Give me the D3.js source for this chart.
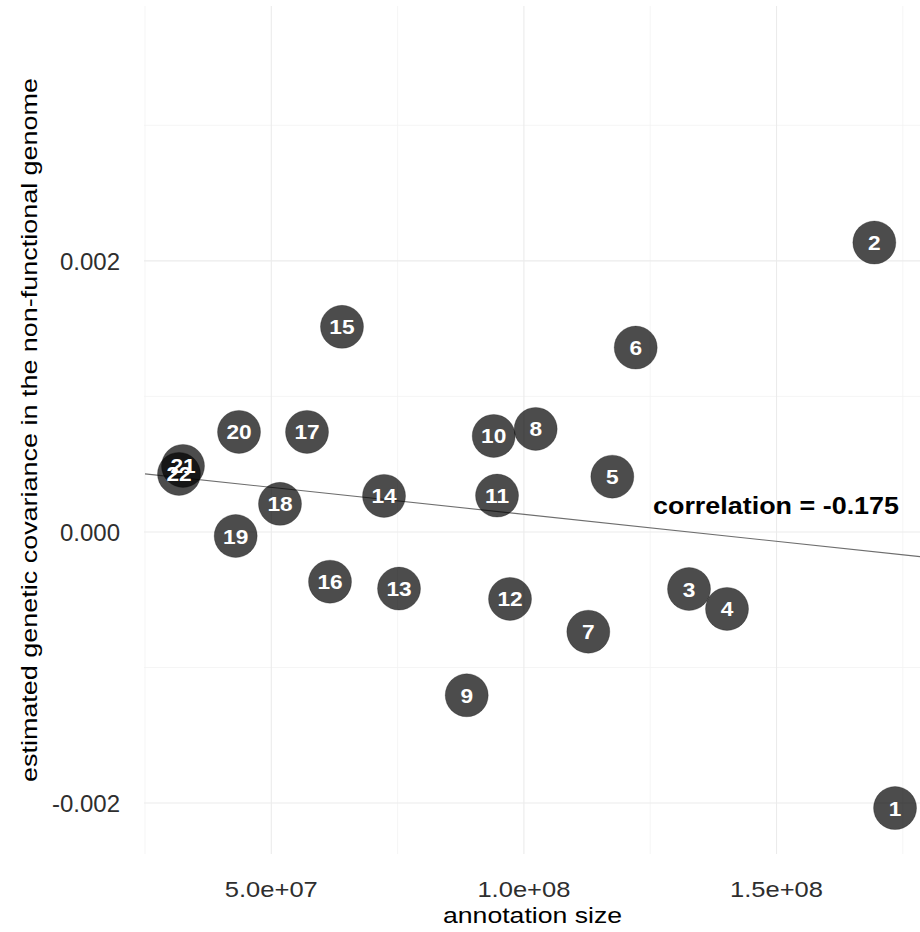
<!DOCTYPE html>
<html><head><meta charset="utf-8">
<script src="https://cdn.jsdelivr.net/npm/d3@7"></script>
<style>
html,body{margin:0;padding:0;background:#fff;}
text{font-family:"Liberation Sans",Arial,sans-serif;}
</style></head>
<body>
<svg id="chart" width="920" height="932"></svg>
<script>
// ---- data ----
const ids = [1,2,3,4,5,6,7,8,9,10,11,12,13,14,15,16,17,18,19,20,21,22];
const annotationSize = [1.7346e8,1.6936e8,1.3268e8,1.402e8,1.175e8,1.2213e8,1.1275e8,1.0233e8,8.868e7,9.402e7,9.468e7,9.725e7,7.528e7,7.231e7,6.399e7,6.162e7,5.707e7,5.172e7,4.295e7,4.361e7,3.252e7,3.173e7];
const covariance = [-0.002037,0.002135,-0.000421,-0.000568,0.000408,0.00136,-0.000736,0.00076,-0.001205,0.000708,0.000268,-0.000494,-0.000418,0.000266,0.001513,-0.000367,0.000738,0.000207,-0.00003,0.000738,0.000487,0.000428];
const xMajor = [5e7,1e8,1.5e8];
const xTickLabels = ["5.0e+07","1.0e+08","1.5e+08"];
const xMinor = [2.5e7,7.5e7,1.25e8,1.75e8];
const yMajor = [-0.002,0,0.002];
const yTickLabels = ["-0.002","0.000","0.002"];
const yMinor = [-0.001,0.001,0.003];
const corrLabel = "correlation = -0.175";
const xTitle = "annotation size";
const yTitle = "estimated genetic covariance in the non-functional genome";

const svg = d3.select("#chart");
const panel = {left:145, right:920, top:6, bottom:854};
const x = d3.scaleLinear().domain([2.5e7, 1.784e8]).range([panel.left, panel.right]);
const y = d3.scaleLinear().domain([-0.002376, 0.00388]).range([panel.bottom, panel.top]);

// grid
const g = svg.append("g");
g.selectAll(".xmin").data(xMinor).join("line")
  .attr("x1",d=>x(d)).attr("x2",d=>x(d)).attr("y1",panel.top).attr("y2",panel.bottom)
  .attr("stroke","#f3f3f3").attr("stroke-width",0.8);
g.selectAll(".ymin").data(yMinor).join("line")
  .attr("y1",d=>y(d)).attr("y2",d=>y(d)).attr("x1",panel.left-1).attr("x2",panel.right)
  .attr("stroke","#f3f3f3").attr("stroke-width",0.8);
g.selectAll(".xmaj").data(xMajor).join("line")
  .attr("x1",d=>x(d)).attr("x2",d=>x(d)).attr("y1",panel.top).attr("y2",panel.bottom)
  .attr("stroke","#ebebeb").attr("stroke-width",1.1);
g.selectAll(".ymaj").data(yMajor).join("line")
  .attr("y1",d=>y(d)).attr("y2",d=>y(d)).attr("x1",panel.left-1).attr("x2",panel.right)
  .attr("stroke","#ebebeb").attr("stroke-width",1.1);

// regression line (least squares from the data)
const n = ids.length;
const mx = d3.mean(annotationSize), my = d3.mean(covariance);
let sxy=0, sxx=0;
for(let i=0;i<n;i++){ sxy+=(annotationSize[i]-mx)*(covariance[i]-my); sxx+=(annotationSize[i]-mx)**2; }
const slope = sxy/sxx, intercept = my - slope*mx;
svg.append("line")
  .attr("x1",x(x.domain()[0])).attr("y1",y(intercept+slope*x.domain()[0]))
  .attr("x2",x(x.domain()[1])).attr("y2",y(intercept+slope*x.domain()[1]))
  .attr("stroke","#6e6e6e").attr("stroke-width",1.1);

// points
const pts = ids.map((id,i)=>({id, xv:annotationSize[i], yv:covariance[i]}));
svg.append("g").selectAll("circle").data(pts).join("circle")
  .attr("cx",d=>x(d.xv)).attr("cy",d=>y(d.yv)).attr("r",21.5)
  .attr("fill","#000").attr("fill-opacity",0.7)
  .attr("stroke","#000").attr("stroke-opacity",0.25).attr("stroke-width",1);
svg.append("g").selectAll("text").data(pts).join("text")
  .attr("transform",d=>`translate(${x(d.xv)},${y(d.yv)+7.5}) scale(1.08,1)`)
  .attr("text-anchor","middle").attr("fill","#fff")
  .attr("font-weight","bold").attr("font-size",21)
  .text(d=>d.id);

// correlation label
svg.append("text").attr("x",776).attr("y",514).attr("text-anchor","middle")
  .attr("font-weight","bold").attr("font-size",23).attr("fill","#000")
  .attr("textLength",246).attr("lengthAdjust","spacingAndGlyphs")
  .text(corrLabel);

// axes tick labels
svg.append("g").selectAll("text").data(xMajor).join("text")
  .attr("x",d=>x(d)).attr("y",897).attr("text-anchor","middle")
  .attr("font-size",22).attr("fill","#2e2e2e")
  .attr("textLength",93).attr("lengthAdjust","spacingAndGlyphs")
  .text((d,i)=>xTickLabels[i]);
svg.append("g").selectAll("text").data(yMajor).join("text")
  .attr("x",120).attr("y",d=>y(d)+9).attr("text-anchor","end")
  .attr("font-size",24).attr("fill","#2e2e2e")
  .text((d,i)=>yTickLabels[i]);

// axis titles
svg.append("text").attr("x",(panel.left+panel.right)/2).attr("y",923)
  .attr("text-anchor","middle").attr("font-size",22).attr("fill","#000")
  .attr("textLength",179).attr("lengthAdjust","spacingAndGlyphs")
  .text(xTitle);
svg.append("text").attr("transform",`translate(37,${(panel.top+panel.bottom)/2}) rotate(-90)`)
  .attr("text-anchor","middle").attr("font-size",22).attr("fill","#000")
  .attr("textLength",704).attr("lengthAdjust","spacingAndGlyphs")
  .text(yTitle);
</script>
</body></html>
